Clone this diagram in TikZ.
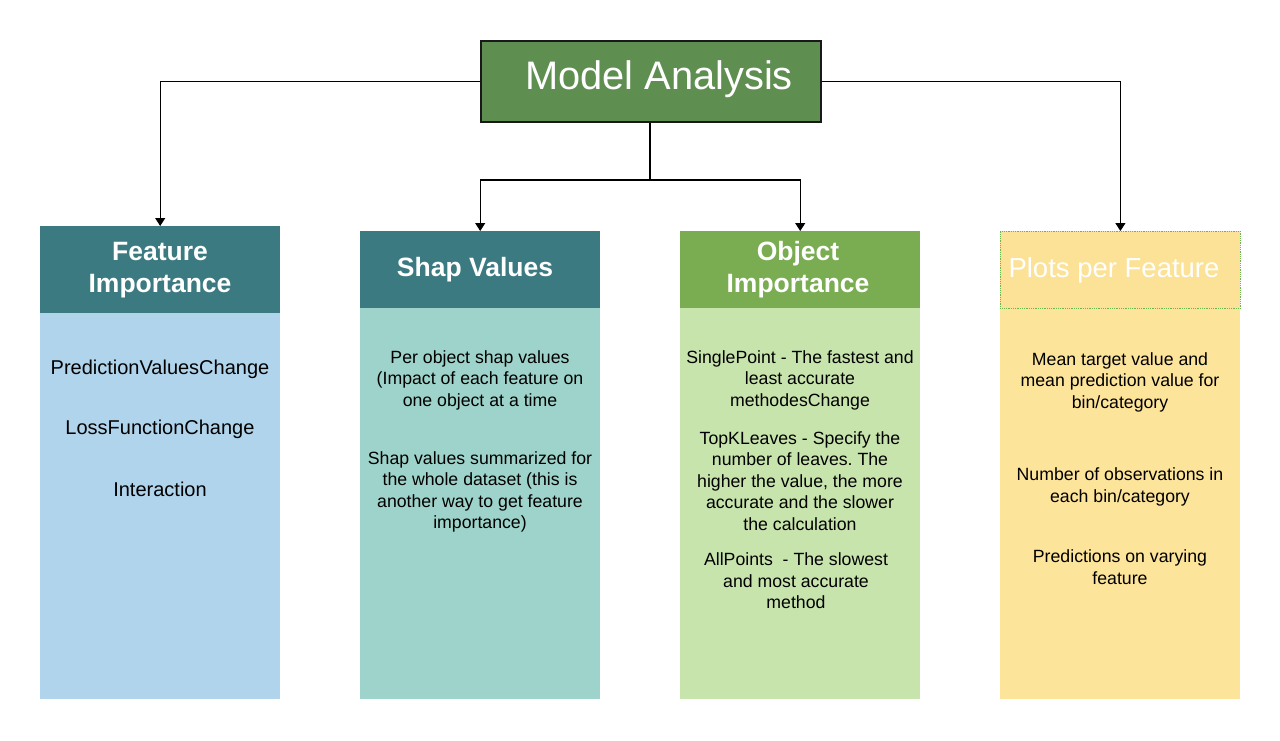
\documentclass[tikz,border=0pt]{standalone}
\usepackage{fontspec}
\setmainfont{Liberation Sans}
\usetikzlibrary{arrows.meta}
\frenchspacing
\definecolor{titlefill}{RGB}{94,142,80}
\definecolor{teal}{RGB}{59,122,128}
\definecolor{bluebody}{RGB}{176,212,236}
\definecolor{tealbody}{RGB}{157,211,202}
\definecolor{greenhdr}{RGB}{122,172,82}
\definecolor{greenbody}{RGB}{200,228,173}
\definecolor{yellowhdr}{RGB}{252,226,150}
\definecolor{yellowbody}{RGB}{253,228,155}
\definecolor{dotgreen}{RGB}{110,180,80}
\tikzset{
  x=1pt,y=-1pt,
  hdrbox/.style={anchor=north west,minimum width=240pt,inner sep=0pt,draw=none},
  bodybox/.style={anchor=north west,minimum width=240pt,inner sep=0pt,draw=none},
  hdrtext/.style={font=\fontsize{26.5}{32}\selectfont\bfseries,text=white,align=center,inner sep=0pt},
  bodytext/.style={font=\fontsize{17.7}{21.5}\selectfont,align=center,inner sep=0pt,text=black},
  bigtext/.style={font=\fontsize{20}{24}\selectfont,align=center,inner sep=0pt,text=black},
  conn/.style={line width=1.2pt,-{Triangle[width=10pt,length=8pt]}},
  connplain/.style={line width=1.2pt}
}
\begin{document}
\begin{tikzpicture}
\useasboundingbox[fill=white] (0,0) rectangle (1280,740);
% title
\node[draw=black!90,line width=2pt,fill=titlefill,minimum width=340pt,minimum height=81pt,anchor=north west,inner sep=0pt] (title) at (480,40) {};
\node[font=\fontsize{39.8}{42}\selectfont,text=white,inner sep=0pt] (titletext) at (659,79) {Model Analysis};
% column 1
\node[bodybox,fill=bluebody,minimum height=386pt] (b1) at (40,313) {};
\node[hdrbox,fill=teal,minimum height=87pt] (h1) at (40,226) {};
\node[hdrtext] (h1t) at (160,270) {Feature\\Importance};
\node[bigtext] (t11) at (160,369) {PredictionValuesChange};
\node[bigtext] (t12) at (160,429) {LossFunctionChange};
\node[bigtext] (t13) at (160,489) {Interaction};
% column 2
\node[bodybox,fill=tealbody,minimum height=391pt] (b2) at (360,308) {};
\node[hdrbox,fill=teal,minimum height=77pt] (h2) at (360,231) {};
\node[hdrtext] (h2t) at (475,270) {Shap Values};
\node[bodytext] (t21) at (480,380) {Per object shap values\\(Impact of each feature on\\one object at a time};
\node[bodytext] (t22) at (480,492) {Shap values summarized for\\the whole dataset (this is\\another way to get feature\\importance)};
% column 3
\node[bodybox,fill=greenbody,minimum height=391pt] (b3) at (680,308) {};
\node[hdrbox,fill=greenhdr,minimum height=77pt] (h3) at (680,231) {};
\node[hdrtext] (h3t) at (798,270) {Object\\Importance};
\node[bodytext] (t31) at (800,380) {SinglePoint - The fastest and\\least accurate\\methodesChange};
\node[bodytext] (t32) at (800,481) {TopKLeaves - Specify the\\number of leaves. The\\higher the value, the more\\accurate and the slower\\the calculation};
\node[bodytext] (t33) at (796,581) {AllPoints\ \ - The slowest\\and most accurate\\method};
% column 4
\node[bodybox,fill=yellowbody,minimum height=391pt] (b4) at (1000,308) {};
\node[hdrbox,fill=yellowhdr,minimum height=77pt,draw=dotgreen,densely dotted,line width=0.8pt] (h4) at (1000,231) {};
\node[font=\fontsize{27.5}{30}\selectfont,text=white,inner sep=0pt] (h4t) at (1114,270) {Plots per Feature};
\node[bodytext] (t41) at (1120,382) {Mean target value and\\mean prediction value for\\bin/category};
\node[bodytext] (t42) at (1120,487) {Number of observations in\\each bin/category};
\node[bodytext] (t43) at (1120,567) {Predictions on varying\\feature};
% connectors
\coordinate (split) at (650,180);
\draw[conn] (title.west) -| (h1.north);
\draw[conn] (title.east) -| (h4.north);
\draw[connplain] (title.south -| split) -- (split);
\draw[conn] (split) -| (h2.north);
\draw[conn] (split) -| (h3.north);
\end{tikzpicture}
\end{document}
